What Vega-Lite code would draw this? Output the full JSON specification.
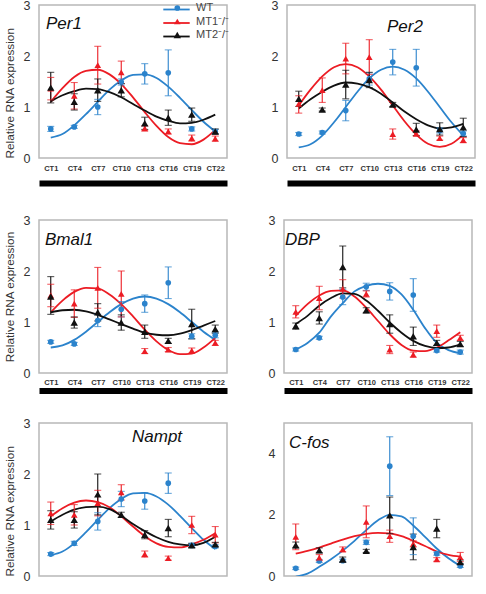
{
"$schema":"https://vega.github.io/schema/vega-lite/v6.json",
"background":"white",
"padding":{"left":3,"top":-2,"right":5,"bottom":0},
"config":{
 "font":"Liberation Sans",
 "view":{"stroke":"#b8b8b8","strokeWidth":1.5},
 "axis":{"grid":false,"ticks":false,"domain":false,"labelColor":"#333","titleColor":"#333","labelFont":"Liberation Sans","titleFont":"Liberation Sans"},
 "axisY":{"labelFontSize":12.5,"labelPadding":9,"titleFontSize":11.8,"titleFontWeight":"normal","titlePadding":8,"labelOverlap":false},
 "axisX":{"labelFontSize":7.5,"labelFontWeight":"bold","labelPadding":6.5,"labelOverlap":false}
},
"datasets":{
"fit":[
{"g":"Per1","t":1,"WT":0.40,"MT1":1.10,"MT2":1.11},
{"g":"Per1","t":2.5,"WT":0.47,"MT1":1.37,"MT2":1.23},
{"g":"Per1","t":4,"WT":0.64,"MT1":1.59,"MT2":1.31},
{"g":"Per1","t":5.5,"WT":0.86,"MT1":1.71,"MT2":1.36},
{"g":"Per1","t":7,"WT":1.10,"MT1":1.73,"MT2":1.35},
{"g":"Per1","t":8.5,"WT":1.34,"MT1":1.64,"MT2":1.29},
{"g":"Per1","t":10,"WT":1.52,"MT1":1.45,"MT2":1.19},
{"g":"Per1","t":11.5,"WT":1.63,"MT1":1.19,"MT2":1.06},
{"g":"Per1","t":13,"WT":1.64,"MT1":0.90,"MT2":0.93},
{"g":"Per1","t":14.5,"WT":1.57,"MT1":0.63,"MT2":0.81},
{"g":"Per1","t":16,"WT":1.40,"MT1":0.41,"MT2":0.73},
{"g":"Per1","t":17.5,"WT":1.18,"MT1":0.29,"MT2":0.68},
{"g":"Per1","t":19,"WT":0.94,"MT1":0.27,"MT2":0.69},
{"g":"Per1","t":20.5,"WT":0.71,"MT1":0.36,"MT2":0.75},
{"g":"Per1","t":22,"WT":0.52,"MT1":0.55,"MT2":0.85},
{"g":"Per2","t":1,"WT":0.21,"MT1":1.03,"MT2":0.97},
{"g":"Per2","t":2.5,"WT":0.27,"MT1":1.34,"MT2":1.15},
{"g":"Per2","t":4,"WT":0.44,"MT1":1.60,"MT2":1.30},
{"g":"Per2","t":5.5,"WT":0.70,"MT1":1.78,"MT2":1.42},
{"g":"Per2","t":7,"WT":1.00,"MT1":1.84,"MT2":1.48},
{"g":"Per2","t":8.5,"WT":1.30,"MT1":1.78,"MT2":1.46},
{"g":"Per2","t":10,"WT":1.56,"MT1":1.60,"MT2":1.39},
{"g":"Per2","t":11.5,"WT":1.73,"MT1":1.34,"MT2":1.26},
{"g":"Per2","t":13,"WT":1.79,"MT1":1.03,"MT2":1.09},
{"g":"Per2","t":14.5,"WT":1.73,"MT1":0.72,"MT2":0.91},
{"g":"Per2","t":16,"WT":1.56,"MT1":0.46,"MT2":0.76},
{"g":"Per2","t":17.5,"WT":1.30,"MT1":0.28,"MT2":0.64},
{"g":"Per2","t":19,"WT":1.00,"MT1":0.22,"MT2":0.58},
{"g":"Per2","t":20.5,"WT":0.70,"MT1":0.28,"MT2":0.60},
{"g":"Per2","t":22,"WT":0.44,"MT1":0.46,"MT2":0.67},
{"g":"Bmal1","t":1,"WT":0.50,"MT1":1.19,"MT2":1.19},
{"g":"Bmal1","t":2.5,"WT":0.54,"MT1":1.42,"MT2":1.23},
{"g":"Bmal1","t":4,"WT":0.65,"MT1":1.59,"MT2":1.24},
{"g":"Bmal1","t":5.5,"WT":0.81,"MT1":1.67,"MT2":1.21},
{"g":"Bmal1","t":7,"WT":1.00,"MT1":1.66,"MT2":1.14},
{"g":"Bmal1","t":8.5,"WT":1.19,"MT1":1.54,"MT2":1.05},
{"g":"Bmal1","t":10,"WT":1.35,"MT1":1.35,"MT2":0.96},
{"g":"Bmal1","t":11.5,"WT":1.46,"MT1":1.11,"MT2":0.87},
{"g":"Bmal1","t":13,"WT":1.50,"MT1":0.85,"MT2":0.79},
{"g":"Bmal1","t":14.5,"WT":1.46,"MT1":0.62,"MT2":0.75},
{"g":"Bmal1","t":16,"WT":1.35,"MT1":0.45,"MT2":0.74},
{"g":"Bmal1","t":17.5,"WT":1.19,"MT1":0.37,"MT2":0.77},
{"g":"Bmal1","t":19,"WT":1.00,"MT1":0.38,"MT2":0.84},
{"g":"Bmal1","t":20.5,"WT":0.81,"MT1":0.50,"MT2":0.93},
{"g":"Bmal1","t":22,"WT":0.65,"MT1":0.69,"MT2":1.02},
{"g":"DBP","t":1,"WT":0.46,"MT1":1.12,"MT2":0.96},
{"g":"DBP","t":2.5,"WT":0.59,"MT1":1.35,"MT2":1.12},
{"g":"DBP","t":4,"WT":0.79,"MT1":1.52,"MT2":1.32},
{"g":"DBP","t":5.5,"WT":1.11,"MT1":1.61,"MT2":1.47},
{"g":"DBP","t":7,"WT":1.37,"MT1":1.62,"MT2":1.56},
{"g":"DBP","t":8.5,"WT":1.60,"MT1":1.50,"MT2":1.55},
{"g":"DBP","t":10,"WT":1.71,"MT1":1.28,"MT2":1.42},
{"g":"DBP","t":11.5,"WT":1.75,"MT1":1.02,"MT2":1.22},
{"g":"DBP","t":13,"WT":1.71,"MT1":0.76,"MT2":0.99},
{"g":"DBP","t":14.5,"WT":1.54,"MT1":0.55,"MT2":0.79},
{"g":"DBP","t":16,"WT":1.24,"MT1":0.44,"MT2":0.63},
{"g":"DBP","t":17.5,"WT":0.88,"MT1":0.43,"MT2":0.53},
{"g":"DBP","t":19,"WT":0.59,"MT1":0.50,"MT2":0.49},
{"g":"DBP","t":20.5,"WT":0.45,"MT1":0.64,"MT2":0.50},
{"g":"DBP","t":22,"WT":0.39,"MT1":0.80,"MT2":0.56},
{"g":"Nampt","t":1,"WT":0.41,"MT1":1.17,"MT2":1.07},
{"g":"Nampt","t":2.5,"WT":0.48,"MT1":1.33,"MT2":1.20},
{"g":"Nampt","t":4,"WT":0.64,"MT1":1.44,"MT2":1.30},
{"g":"Nampt","t":5.5,"WT":0.86,"MT1":1.48,"MT2":1.35},
{"g":"Nampt","t":7,"WT":1.10,"MT1":1.45,"MT2":1.36},
{"g":"Nampt","t":8.5,"WT":1.33,"MT1":1.35,"MT2":1.31},
{"g":"Nampt","t":10,"WT":1.51,"MT1":1.17,"MT2":1.18},
{"g":"Nampt","t":11.5,"WT":1.62,"MT1":0.97,"MT2":1.02},
{"g":"Nampt","t":13,"WT":1.63,"MT1":0.78,"MT2":0.88},
{"g":"Nampt","t":14.5,"WT":1.56,"MT1":0.64,"MT2":0.76},
{"g":"Nampt","t":16,"WT":1.40,"MT1":0.57,"MT2":0.67},
{"g":"Nampt","t":17.5,"WT":1.18,"MT1":0.56,"MT2":0.62},
{"g":"Nampt","t":19,"WT":0.94,"MT1":0.62,"MT2":0.60},
{"g":"Nampt","t":20.5,"WT":0.71,"MT1":0.71,"MT2":0.65},
{"g":"Nampt","t":22,"WT":0.53,"MT1":0.84,"MT2":0.77},
{"g":"C-fos","t":1,"WT":-0.02,"MT1":0.73},
{"g":"C-fos","t":2.5,"WT":0.08,"MT1":0.82},
{"g":"C-fos","t":4,"WT":0.30,"MT1":0.93},
{"g":"C-fos","t":5.5,"WT":0.55,"MT1":1.06},
{"g":"C-fos","t":7,"WT":0.83,"MT1":1.19},
{"g":"C-fos","t":8.5,"WT":1.15,"MT1":1.30},
{"g":"C-fos","t":10,"WT":1.50,"MT1":1.38},
{"g":"C-fos","t":11.5,"WT":1.82,"MT1":1.41},
{"g":"C-fos","t":13,"WT":2.00,"MT1":1.39},
{"g":"C-fos","t":14.5,"WT":1.95,"MT1":1.30},
{"g":"C-fos","t":16,"WT":1.65,"MT1":1.15},
{"g":"C-fos","t":17.5,"WT":1.28,"MT1":0.98},
{"g":"C-fos","t":19,"WT":0.90,"MT1":0.80},
{"g":"C-fos","t":20.5,"WT":0.58,"MT1":0.69},
{"g":"C-fos","t":22,"WT":0.33,"MT1":0.63}
],
"pts":[
{"g":"Per1","s":"WT","t":1,"y":0.57,"lo":0.52,"hi":0.62},
{"g":"Per1","s":"WT","t":4,"y":0.61,"lo":0.58,"hi":0.64},
{"g":"Per1","s":"WT","t":7,"y":1.0,"lo":0.85,"hi":1.15},
{"g":"Per1","s":"WT","t":10,"y":1.49,"lo":1.43,"hi":1.55},
{"g":"Per1","s":"WT","t":13,"y":1.65,"lo":1.45,"hi":1.85},
{"g":"Per1","s":"WT","t":16,"y":1.67,"lo":1.22,"hi":2.12},
{"g":"Per1","s":"WT","t":19,"y":0.57,"lo":0.53,"hi":0.61},
{"g":"Per1","s":"WT","t":22,"y":0.52,"lo":0.48,"hi":0.56},
{"g":"Per1","s":"MT1","t":1,"y":1.36,"lo":1.14,"hi":1.58},
{"g":"Per1","s":"MT1","t":4,"y":1.22,"lo":0.96,"hi":1.48},
{"g":"Per1","s":"MT1","t":7,"y":1.82,"lo":1.45,"hi":2.19},
{"g":"Per1","s":"MT1","t":10,"y":1.68,"lo":1.46,"hi":1.9},
{"g":"Per1","s":"MT1","t":13,"y":0.58,"lo":0.53,"hi":0.63},
{"g":"Per1","s":"MT1","t":16,"y":0.52,"lo":0.47,"hi":0.57},
{"g":"Per1","s":"MT1","t":19,"y":0.39,"lo":0.33,"hi":0.45},
{"g":"Per1","s":"MT1","t":22,"y":0.38,"lo":0.33,"hi":0.43},
{"g":"Per1","s":"MT2","t":1,"y":1.38,"lo":1.08,"hi":1.68},
{"g":"Per1","s":"MT2","t":4,"y":1.1,"lo":0.94,"hi":1.26},
{"g":"Per1","s":"MT2","t":7,"y":1.33,"lo":1.11,"hi":1.55},
{"g":"Per1","s":"MT2","t":10,"y":1.33,"lo":1.2,"hi":1.46},
{"g":"Per1","s":"MT2","t":13,"y":0.68,"lo":0.56,"hi":0.8},
{"g":"Per1","s":"MT2","t":16,"y":0.79,"lo":0.64,"hi":0.94},
{"g":"Per1","s":"MT2","t":19,"y":0.85,"lo":0.72,"hi":0.98},
{"g":"Per1","s":"MT2","t":22,"y":0.52,"lo":0.47,"hi":0.57},
{"g":"Per2","s":"WT","t":1,"y":0.47,"lo":0.44,"hi":0.5},
{"g":"Per2","s":"WT","t":4,"y":0.5,"lo":0.47,"hi":0.53},
{"g":"Per2","s":"WT","t":7,"y":0.93,"lo":0.73,"hi":1.13},
{"g":"Per2","s":"WT","t":10,"y":1.55,"lo":1.43,"hi":1.67},
{"g":"Per2","s":"WT","t":13,"y":1.88,"lo":1.63,"hi":2.13},
{"g":"Per2","s":"WT","t":16,"y":1.77,"lo":1.41,"hi":2.13},
{"g":"Per2","s":"WT","t":19,"y":0.54,"lo":0.49,"hi":0.59},
{"g":"Per2","s":"WT","t":22,"y":0.48,"lo":0.43,"hi":0.53},
{"g":"Per2","s":"MT1","t":1,"y":1.06,"lo":0.88,"hi":1.22},
{"g":"Per2","s":"MT1","t":4,"y":1.33,"lo":1.09,"hi":1.57},
{"g":"Per2","s":"MT1","t":7,"y":1.95,"lo":1.65,"hi":2.25},
{"g":"Per2","s":"MT1","t":10,"y":1.98,"lo":1.64,"hi":2.32},
{"g":"Per2","s":"MT1","t":13,"y":0.47,"lo":0.37,"hi":0.57},
{"g":"Per2","s":"MT1","t":16,"y":0.48,"lo":0.43,"hi":0.53},
{"g":"Per2","s":"MT1","t":19,"y":0.39,"lo":0.35,"hi":0.43},
{"g":"Per2","s":"MT1","t":22,"y":0.35,"lo":0.3,"hi":0.4},
{"g":"Per2","s":"MT2","t":1,"y":1.16,"lo":1.01,"hi":1.31},
{"g":"Per2","s":"MT2","t":4,"y":0.95,"lo":0.92,"hi":0.98},
{"g":"Per2","s":"MT2","t":7,"y":1.44,"lo":1.16,"hi":1.72},
{"g":"Per2","s":"MT2","t":10,"y":1.53,"lo":1.38,"hi":1.68},
{"g":"Per2","s":"MT2","t":13,"y":1.05,"lo":1.01,"hi":1.09},
{"g":"Per2","s":"MT2","t":16,"y":0.56,"lo":0.44,"hi":0.68},
{"g":"Per2","s":"MT2","t":19,"y":0.57,"lo":0.45,"hi":0.69},
{"g":"Per2","s":"MT2","t":22,"y":0.6,"lo":0.42,"hi":0.78},
{"g":"Bmal1","s":"WT","t":1,"y":0.61,"lo":0.58,"hi":0.64},
{"g":"Bmal1","s":"WT","t":4,"y":0.57,"lo":0.54,"hi":0.6},
{"g":"Bmal1","s":"WT","t":7,"y":1.03,"lo":0.91,"hi":1.15},
{"g":"Bmal1","s":"WT","t":10,"y":1.25,"lo":1.1,"hi":1.4},
{"g":"Bmal1","s":"WT","t":13,"y":1.36,"lo":1.19,"hi":1.53},
{"g":"Bmal1","s":"WT","t":16,"y":1.77,"lo":1.46,"hi":2.08},
{"g":"Bmal1","s":"WT","t":19,"y":0.72,"lo":0.67,"hi":0.77},
{"g":"Bmal1","s":"WT","t":22,"y":0.74,"lo":0.69,"hi":0.79},
{"g":"Bmal1","s":"MT1","t":1,"y":1.52,"lo":1.3,"hi":1.74},
{"g":"Bmal1","s":"MT1","t":4,"y":1.36,"lo":1.09,"hi":1.63},
{"g":"Bmal1","s":"MT1","t":7,"y":1.67,"lo":1.27,"hi":2.07},
{"g":"Bmal1","s":"MT1","t":10,"y":1.55,"lo":1.1,"hi":2.0},
{"g":"Bmal1","s":"MT1","t":13,"y":0.43,"lo":0.38,"hi":0.48},
{"g":"Bmal1","s":"MT1","t":16,"y":0.46,"lo":0.42,"hi":0.5},
{"g":"Bmal1","s":"MT1","t":19,"y":0.44,"lo":0.39,"hi":0.49},
{"g":"Bmal1","s":"MT1","t":22,"y":0.59,"lo":0.54,"hi":0.64},
{"g":"Bmal1","s":"MT2","t":1,"y":1.5,"lo":1.15,"hi":1.89},
{"g":"Bmal1","s":"MT2","t":4,"y":0.99,"lo":0.88,"hi":1.1},
{"g":"Bmal1","s":"MT2","t":7,"y":1.19,"lo":1.02,"hi":1.36},
{"g":"Bmal1","s":"MT2","t":10,"y":0.99,"lo":0.84,"hi":1.14},
{"g":"Bmal1","s":"MT2","t":13,"y":0.81,"lo":0.68,"hi":0.94},
{"g":"Bmal1","s":"MT2","t":16,"y":0.63,"lo":0.58,"hi":0.68},
{"g":"Bmal1","s":"MT2","t":19,"y":0.96,"lo":0.67,"hi":1.25},
{"g":"Bmal1","s":"MT2","t":22,"y":0.86,"lo":0.78,"hi":0.94},
{"g":"DBP","s":"WT","t":1,"y":0.46,"lo":0.43,"hi":0.49},
{"g":"DBP","s":"WT","t":4,"y":0.69,"lo":0.66,"hi":0.72},
{"g":"DBP","s":"WT","t":7,"y":1.49,"lo":1.34,"hi":1.64},
{"g":"DBP","s":"WT","t":10,"y":1.69,"lo":1.62,"hi":1.76},
{"g":"DBP","s":"WT","t":13,"y":1.6,"lo":1.43,"hi":1.77},
{"g":"DBP","s":"WT","t":16,"y":1.53,"lo":1.21,"hi":1.85},
{"g":"DBP","s":"WT","t":19,"y":0.44,"lo":0.41,"hi":0.47},
{"g":"DBP","s":"WT","t":22,"y":0.41,"lo":0.37,"hi":0.45},
{"g":"DBP","s":"MT1","t":1,"y":1.2,"lo":1.08,"hi":1.32},
{"g":"DBP","s":"MT1","t":4,"y":1.47,"lo":1.24,"hi":1.7},
{"g":"DBP","s":"MT1","t":7,"y":1.65,"lo":1.47,"hi":1.83},
{"g":"DBP","s":"MT1","t":10,"y":1.55,"lo":1.49,"hi":1.61},
{"g":"DBP","s":"MT1","t":13,"y":0.46,"lo":0.38,"hi":0.54},
{"g":"DBP","s":"MT1","t":16,"y":0.36,"lo":0.31,"hi":0.41},
{"g":"DBP","s":"MT1","t":19,"y":0.82,"lo":0.7,"hi":0.94},
{"g":"DBP","s":"MT1","t":22,"y":0.69,"lo":0.64,"hi":0.74},
{"g":"DBP","s":"MT2","t":1,"y":0.92,"lo":0.86,"hi":0.98},
{"g":"DBP","s":"MT2","t":4,"y":1.08,"lo":0.96,"hi":1.2},
{"g":"DBP","s":"MT2","t":7,"y":2.08,"lo":1.67,"hi":2.49},
{"g":"DBP","s":"MT2","t":10,"y":1.23,"lo":1.18,"hi":1.28},
{"g":"DBP","s":"MT2","t":13,"y":0.96,"lo":0.78,"hi":1.14},
{"g":"DBP","s":"MT2","t":16,"y":0.72,"lo":0.54,"hi":0.9},
{"g":"DBP","s":"MT2","t":19,"y":0.59,"lo":0.54,"hi":0.64},
{"g":"DBP","s":"MT2","t":22,"y":0.57,"lo":0.52,"hi":0.62},
{"g":"Nampt","s":"WT","t":1,"y":0.43,"lo":0.4,"hi":0.46},
{"g":"Nampt","s":"WT","t":4,"y":0.64,"lo":0.6,"hi":0.68},
{"g":"Nampt","s":"WT","t":7,"y":1.07,"lo":0.9,"hi":1.24},
{"g":"Nampt","s":"WT","t":10,"y":1.51,"lo":1.36,"hi":1.66},
{"g":"Nampt","s":"WT","t":13,"y":1.47,"lo":1.31,"hi":1.63},
{"g":"Nampt","s":"WT","t":16,"y":1.82,"lo":1.62,"hi":2.02},
{"g":"Nampt","s":"WT","t":19,"y":0.6,"lo":0.56,"hi":0.64},
{"g":"Nampt","s":"WT","t":22,"y":0.58,"lo":0.55,"hi":0.61},
{"g":"Nampt","s":"MT1","t":1,"y":1.23,"lo":1.01,"hi":1.45},
{"g":"Nampt","s":"MT1","t":4,"y":1.2,"lo":1.0,"hi":1.4},
{"g":"Nampt","s":"MT1","t":7,"y":1.43,"lo":1.18,"hi":1.68},
{"g":"Nampt","s":"MT1","t":10,"y":1.64,"lo":1.49,"hi":1.79},
{"g":"Nampt","s":"MT1","t":13,"y":0.43,"lo":0.37,"hi":0.49},
{"g":"Nampt","s":"MT1","t":16,"y":0.35,"lo":0.31,"hi":0.39},
{"g":"Nampt","s":"MT1","t":19,"y":1.0,"lo":0.83,"hi":1.17},
{"g":"Nampt","s":"MT1","t":22,"y":0.81,"lo":0.65,"hi":0.97},
{"g":"Nampt","s":"MT2","t":1,"y":1.1,"lo":0.92,"hi":1.28},
{"g":"Nampt","s":"MT2","t":4,"y":1.1,"lo":0.94,"hi":1.26},
{"g":"Nampt","s":"MT2","t":7,"y":1.6,"lo":1.2,"hi":2.0},
{"g":"Nampt","s":"MT2","t":10,"y":1.2,"lo":1.15,"hi":1.25},
{"g":"Nampt","s":"MT2","t":13,"y":0.81,"lo":0.73,"hi":0.89},
{"g":"Nampt","s":"MT2","t":16,"y":0.94,"lo":0.77,"hi":1.11},
{"g":"Nampt","s":"MT2","t":19,"y":0.6,"lo":0.56,"hi":0.64},
{"g":"Nampt","s":"MT2","t":22,"y":0.62,"lo":0.58,"hi":0.66},
{"g":"C-fos","s":"WT","t":1,"y":0.25,"lo":0.21,"hi":0.29},
{"g":"C-fos","s":"WT","t":4,"y":0.49,"lo":0.44,"hi":0.54},
{"g":"C-fos","s":"WT","t":7,"y":0.5,"lo":0.45,"hi":0.55},
{"g":"C-fos","s":"WT","t":10,"y":1.1,"lo":1.03,"hi":1.17},
{"g":"C-fos","s":"WT","t":13,"y":3.59,"lo":2.63,"hi":4.55},
{"g":"C-fos","s":"WT","t":16,"y":1.3,"lo":0.7,"hi":1.9},
{"g":"C-fos","s":"WT","t":19,"y":0.73,"lo":0.68,"hi":0.78},
{"g":"C-fos","s":"WT","t":22,"y":0.33,"lo":0.28,"hi":0.38},
{"g":"C-fos","s":"MT1","t":1,"y":1.28,"lo":0.86,"hi":1.7},
{"g":"C-fos","s":"MT1","t":4,"y":0.6,"lo":0.5,"hi":0.7},
{"g":"C-fos","s":"MT1","t":7,"y":0.87,"lo":0.79,"hi":0.95},
{"g":"C-fos","s":"MT1","t":10,"y":1.77,"lo":1.25,"hi":2.29},
{"g":"C-fos","s":"MT1","t":13,"y":1.3,"lo":1.1,"hi":1.5},
{"g":"C-fos","s":"MT1","t":16,"y":1.05,"lo":0.95,"hi":1.15},
{"g":"C-fos","s":"MT1","t":19,"y":0.54,"lo":0.48,"hi":0.6},
{"g":"C-fos","s":"MT1","t":22,"y":0.62,"lo":0.47,"hi":0.77},
{"g":"C-fos","s":"MT2","t":1,"y":1.01,"lo":0.91,"hi":1.11},
{"g":"C-fos","s":"MT2","t":4,"y":0.84,"lo":0.76,"hi":0.92},
{"g":"C-fos","s":"MT2","t":7,"y":0.54,"lo":0.46,"hi":0.62},
{"g":"C-fos","s":"MT2","t":10,"y":0.82,"lo":0.77,"hi":0.87},
{"g":"C-fos","s":"MT2","t":13,"y":1.98,"lo":1.38,"hi":2.58},
{"g":"C-fos","s":"MT2","t":16,"y":0.95,"lo":0.53,"hi":1.37},
{"g":"C-fos","s":"MT2","t":19,"y":1.55,"lo":1.25,"hi":1.85},
{"g":"C-fos","s":"MT2","t":22,"y":0.46,"lo":0.4,"hi":0.52}
]
},
"spacing":24,
"vconcat":[
{"spacing":29,"vconcat":[
{"spacing":39,"hconcat":[
{
 "width":188,"height":153,
 "title":{"text":"Per1","anchor":"start","frame":"group","offset":-47,"dx":7,"baseline":"alphabetic","fontSize":17,"fontStyle":"italic","fontWeight":"normal","font":"Liberation Sans","color":"#111"},
 "layer":[
  {"data":{"name":"fit"},"transform":[{"filter":"datum.g === 'Per1'"},{"fold":["WT","MT1","MT2"],"as":["s","v"]},{"filter":"isValid(datum.v)"}],
   "mark":{"type":"line","interpolate":"monotone","strokeWidth":1.8,"clip":true},
   "encoding":{
    "x":{"field":"t","type":"quantitative","title":null,"scale":{"domain":[-0.5,23.5],"nice":false,"zero":false},"axis":{"orient":"bottom","offset":25,"domain":true,"domainWidth":6,"domainColor":"#000","labels":false,"ticks":false,"grid":false,"title":null}},
    "y":{"field":"v","type":"quantitative","title":"Relative RNA expression","scale":{"domain":[0,3],"nice":false},"axis":{"values":[0,1,2,3],"titleAnchor":"start"}},
    "color":{"field":"s","type":"nominal","scale":{"domain":["WT","MT1","MT2"],"range":["#2b83cc","#ec1c24","#111111"]},
      "legend":{"orient":"none","legendX":130.5,"legendY":-2.5,"title":null,"symbolType":"M-2.2,0H2.2","symbolSize":144,"symbolStrokeWidth":1.8,"labelFontSize":11,"labelOpacity":0,"labelExpr":"''","labelOffset":4,"rowPadding":1.5}}}},
  {"data":{"name":"pts"},"transform":[{"filter":"datum.g === 'Per1'"}],
   "mark":{"type":"rule","strokeWidth":1.1},
   "encoding":{"x":{"field":"t","type":"quantitative","title":null,"axis":null},"y":{"field":"lo","type":"quantitative","title":"Relative RNA expression"},"y2":{"field":"hi"},
    "color":{"field":"s","type":"nominal","legend":null}}},
  {"data":{"name":"pts"},"transform":[{"filter":"datum.g === 'Per1'"},{"fold":["lo","hi"],"as":["k","cap"]}],
   "mark":{"type":"tick","orient":"horizontal","size":7,"thickness":1.1},
   "encoding":{"x":{"field":"t","type":"quantitative","title":null,"axis":null},"y":{"field":"cap","type":"quantitative","title":"Relative RNA expression"},
    "color":{"field":"s","type":"nominal","legend":null}}},
  {"data":{"name":"pts"},"transform":[{"filter":"datum.g === 'Per1'"}],
   "mark":{"type":"point","filled":true,"opacity":1},
   "encoding":{"x":{"field":"t","type":"quantitative","title":null,"axis":{"orient":"bottom","values":[1,4,7,10,13,16,19,22],"labelExpr":"'CT' + datum.value","title":null}},
    "y":{"field":"y","type":"quantitative","title":"Relative RNA expression"},
    "color":{"field":"s","type":"nominal","legend":{"orient":"none","legendX":132.8,"legendY":-2.5,"title":null,"labelFontSize":11,"labelColor":"#444","labelFont":"Liberation Sans","labelOffset":13.3,"rowPadding":1.5,"labelExpr":"datum.label === 'WT' ? 'WT' : datum.label + '⁻/⁻'"}},
    "shape":{"field":"s","type":"nominal","scale":{"domain":["WT","MT1","MT2"],"range":["circle","triangle-up","triangle-up"]},"legend":{"orient":"none","legendX":132.8,"legendY":-2.5,"title":null,"labelFontSize":11,"labelColor":"#444","labelFont":"Liberation Sans","labelOffset":13.3,"rowPadding":1.5,"labelExpr":"datum.label === 'WT' ? 'WT' : datum.label + '⁻/⁻'"}},
    "size":{"field":"s","type":"nominal","scale":{"domain":["WT","MT1","MT2"],"range":[32,55,55]},"legend":{"orient":"none","legendX":132.8,"legendY":-2.5,"title":null,"labelFontSize":11,"labelColor":"#444","labelFont":"Liberation Sans","labelOffset":13.3,"rowPadding":1.5,"labelExpr":"datum.label === 'WT' ? 'WT' : datum.label + '⁻/⁻'"}}}}
 ],
 "resolve":{"axis":{"x":"independent"},"legend":{"color":"independent","shape":"independent","size":"independent"}}
},
{
 "width":188,"height":153,
 "title":{"text":"Per2","anchor":"start","frame":"group","offset":-50,"dx":100,"baseline":"alphabetic","fontSize":17,"fontStyle":"italic","fontWeight":"normal","font":"Liberation Sans","color":"#111"},
 "layer":[
  {"data":{"name":"fit"},"transform":[{"filter":"datum.g === 'Per2'"},{"fold":["WT","MT1","MT2"],"as":["s","v"]},{"filter":"isValid(datum.v)"}],
   "mark":{"type":"line","interpolate":"monotone","strokeWidth":1.8,"clip":true},
   "encoding":{
    "x":{"field":"t","type":"quantitative","title":null,"scale":{"domain":[-0.5,23.5],"nice":false,"zero":false},"axis":{"orient":"bottom","offset":25,"domain":true,"domainWidth":6,"domainColor":"#000","labels":false,"ticks":false,"grid":false,"title":null}},
    "y":{"field":"v","type":"quantitative","title":null,"scale":{"domain":[0,3],"nice":false},"axis":{"values":[0,1,2,3]}},
    "color":{"field":"s","type":"nominal","legend":null}}},
  {"data":{"name":"pts"},"transform":[{"filter":"datum.g === 'Per2'"}],
   "mark":{"type":"rule","strokeWidth":1.1},
   "encoding":{"x":{"field":"t","type":"quantitative","title":null,"axis":null},"y":{"field":"lo","type":"quantitative","title":null},"y2":{"field":"hi"},
    "color":{"field":"s","type":"nominal","legend":null}}},
  {"data":{"name":"pts"},"transform":[{"filter":"datum.g === 'Per2'"},{"fold":["lo","hi"],"as":["k","cap"]}],
   "mark":{"type":"tick","orient":"horizontal","size":7,"thickness":1.1},
   "encoding":{"x":{"field":"t","type":"quantitative","title":null,"axis":null},"y":{"field":"cap","type":"quantitative","title":null},
    "color":{"field":"s","type":"nominal","legend":null}}},
  {"data":{"name":"pts"},"transform":[{"filter":"datum.g === 'Per2'"}],
   "mark":{"type":"point","filled":true,"opacity":1},
   "encoding":{"x":{"field":"t","type":"quantitative","title":null,"axis":{"orient":"bottom","values":[1,4,7,10,13,16,19,22],"labelExpr":"'CT' + datum.value","title":null}},
    "y":{"field":"y","type":"quantitative","title":null},
    "color":{"field":"s","type":"nominal","legend":null},
    "shape":{"field":"s","type":"nominal","legend":null},
    "size":{"field":"s","type":"nominal","legend":null}}}
 ],
 "resolve":{"axis":{"x":"independent"}}
}
]},
{"spacing":39,"hconcat":[
{
 "width":188,"height":153,
 "title":{"text":"Bmal1","anchor":"start","frame":"group","offset":-48,"dx":6,"baseline":"alphabetic","fontSize":17,"fontStyle":"italic","fontWeight":"normal","font":"Liberation Sans","color":"#111"},
 "layer":[
  {"data":{"name":"fit"},"transform":[{"filter":"datum.g === 'Bmal1'"},{"fold":["WT","MT1","MT2"],"as":["s","v"]},{"filter":"isValid(datum.v)"}],
   "mark":{"type":"line","interpolate":"monotone","strokeWidth":1.8,"clip":true},
   "encoding":{
    "x":{"field":"t","type":"quantitative","title":null,"scale":{"domain":[-0.5,23.5],"nice":false,"zero":false},"axis":{"orient":"bottom","offset":17.5,"domain":true,"domainWidth":6,"domainColor":"#000","labels":false,"ticks":false,"grid":false,"title":null}},
    "y":{"field":"v","type":"quantitative","title":"Relative RNA expression","scale":{"domain":[0,3],"nice":false},"axis":{"values":[0,1,2,3]}},
    "color":{"field":"s","type":"nominal","legend":null}}},
  {"data":{"name":"pts"},"transform":[{"filter":"datum.g === 'Bmal1'"}],
   "mark":{"type":"rule","strokeWidth":1.1},
   "encoding":{"x":{"field":"t","type":"quantitative","title":null,"axis":null},"y":{"field":"lo","type":"quantitative","title":"Relative RNA expression"},"y2":{"field":"hi"},
    "color":{"field":"s","type":"nominal","legend":null}}},
  {"data":{"name":"pts"},"transform":[{"filter":"datum.g === 'Bmal1'"},{"fold":["lo","hi"],"as":["k","cap"]}],
   "mark":{"type":"tick","orient":"horizontal","size":7,"thickness":1.1},
   "encoding":{"x":{"field":"t","type":"quantitative","title":null,"axis":null},"y":{"field":"cap","type":"quantitative","title":"Relative RNA expression"},
    "color":{"field":"s","type":"nominal","legend":null}}},
  {"data":{"name":"pts"},"transform":[{"filter":"datum.g === 'Bmal1'"}],
   "mark":{"type":"point","filled":true,"opacity":1},
   "encoding":{"x":{"field":"t","type":"quantitative","title":null,"axis":{"orient":"bottom","values":[1,4,7,10,13,16,19,22],"labelExpr":"'CT' + datum.value","title":null,"labelPadding":5}},
    "y":{"field":"y","type":"quantitative","title":"Relative RNA expression"},
    "color":{"field":"s","type":"nominal","legend":null},
    "shape":{"field":"s","type":"nominal","legend":null},
    "size":{"field":"s","type":"nominal","legend":null}}}
 ],
 "resolve":{"axis":{"x":"independent"}}
},
{
 "width":188,"height":153,
 "title":{"text":"DBP","anchor":"start","frame":"group","offset":-48,"dx":1,"baseline":"alphabetic","fontSize":17,"fontStyle":"italic","fontWeight":"normal","font":"Liberation Sans","color":"#111"},
 "layer":[
  {"data":{"name":"fit"},"transform":[{"filter":"datum.g === 'DBP'"},{"fold":["WT","MT1","MT2"],"as":["s","v"]},{"filter":"isValid(datum.v)"}],
   "mark":{"type":"line","interpolate":"monotone","strokeWidth":1.8,"clip":true},
   "encoding":{
    "x":{"field":"t","type":"quantitative","title":null,"scale":{"domain":[-0.5,23.5],"nice":false,"zero":false},"axis":{"orient":"bottom","offset":17.5,"domain":true,"domainWidth":6,"domainColor":"#000","labels":false,"ticks":false,"grid":false,"title":null}},
    "y":{"field":"v","type":"quantitative","title":null,"scale":{"domain":[0,3],"nice":false},"axis":{"values":[0,1,2,3]}},
    "color":{"field":"s","type":"nominal","legend":null}}},
  {"data":{"name":"pts"},"transform":[{"filter":"datum.g === 'DBP'"}],
   "mark":{"type":"rule","strokeWidth":1.1},
   "encoding":{"x":{"field":"t","type":"quantitative","title":null,"axis":null},"y":{"field":"lo","type":"quantitative","title":null},"y2":{"field":"hi"},
    "color":{"field":"s","type":"nominal","legend":null}}},
  {"data":{"name":"pts"},"transform":[{"filter":"datum.g === 'DBP'"},{"fold":["lo","hi"],"as":["k","cap"]}],
   "mark":{"type":"tick","orient":"horizontal","size":7,"thickness":1.1},
   "encoding":{"x":{"field":"t","type":"quantitative","title":null,"axis":null},"y":{"field":"cap","type":"quantitative","title":null},
    "color":{"field":"s","type":"nominal","legend":null}}},
  {"data":{"name":"pts"},"transform":[{"filter":"datum.g === 'DBP'"}],
   "mark":{"type":"point","filled":true,"opacity":1},
   "encoding":{"x":{"field":"t","type":"quantitative","title":null,"axis":{"orient":"bottom","values":[1,4,7,10,13,16,19,22],"labelExpr":"'CT' + datum.value","title":null,"labelPadding":5}},
    "y":{"field":"y","type":"quantitative","title":null},
    "color":{"field":"s","type":"nominal","legend":null},
    "shape":{"field":"s","type":"nominal","legend":null},
    "size":{"field":"s","type":"nominal","legend":null}}}
 ],
 "resolve":{"axis":{"x":"independent"}}
}
]}
]},
{"spacing":39,"hconcat":[
{
 "width":188,"height":153,
 "title":{"text":"Nampt","anchor":"start","frame":"group","offset":-42,"dx":93,"baseline":"alphabetic","fontSize":17,"fontStyle":"italic","fontWeight":"normal","font":"Liberation Sans","color":"#111"},
 "layer":[
  {"data":{"name":"fit"},"transform":[{"filter":"datum.g === 'Nampt'"},{"fold":["WT","MT1","MT2"],"as":["s","v"]},{"filter":"isValid(datum.v)"}],
   "mark":{"type":"line","interpolate":"monotone","strokeWidth":1.8,"clip":true},
   "encoding":{
    "x":{"field":"t","type":"quantitative","title":null,"scale":{"domain":[-0.5,23.5],"nice":false,"zero":false},"axis":null},
    "y":{"field":"v","type":"quantitative","title":"Relative RNA expression","scale":{"domain":[0,3],"nice":false},"axis":{"values":[0,1,2,3],"titleAnchor":"start"}},
    "color":{"field":"s","type":"nominal","legend":null}}},
  {"data":{"name":"pts"},"transform":[{"filter":"datum.g === 'Nampt'"}],
   "mark":{"type":"rule","strokeWidth":1.1},
   "encoding":{"x":{"field":"t","type":"quantitative","title":null,"axis":null},"y":{"field":"lo","type":"quantitative","title":"Relative RNA expression"},"y2":{"field":"hi"},
    "color":{"field":"s","type":"nominal","legend":null}}},
  {"data":{"name":"pts"},"transform":[{"filter":"datum.g === 'Nampt'"},{"fold":["lo","hi"],"as":["k","cap"]}],
   "mark":{"type":"tick","orient":"horizontal","size":7,"thickness":1.1},
   "encoding":{"x":{"field":"t","type":"quantitative","title":null,"axis":null},"y":{"field":"cap","type":"quantitative","title":"Relative RNA expression"},
    "color":{"field":"s","type":"nominal","legend":null}}},
  {"data":{"name":"pts"},"transform":[{"filter":"datum.g === 'Nampt'"}],
   "mark":{"type":"point","filled":true,"opacity":1},
   "encoding":{"x":{"field":"t","type":"quantitative","title":null,"axis":{"orient":"bottom","values":[1,4,7,10,13,16,19,22],"labelExpr":"'CT' + datum.value","title":null}},
    "y":{"field":"y","type":"quantitative","title":"Relative RNA expression"},
    "color":{"field":"s","type":"nominal","legend":null},
    "shape":{"field":"s","type":"nominal","legend":null},
    "size":{"field":"s","type":"nominal","legend":null}}}
 ]
},
{
 "width":188,"height":153,
 "title":{"text":"C-fos","anchor":"start","frame":"group","offset":-42,"dx":5,"baseline":"alphabetic","fontSize":17,"fontStyle":"italic","fontWeight":"normal","font":"Liberation Sans","color":"#111"},
 "layer":[
  {"data":{"name":"fit"},"transform":[{"filter":"datum.g === 'C-fos'"},{"fold":["WT","MT1","MT2"],"as":["s","v"]},{"filter":"isValid(datum.v)"}],
   "mark":{"type":"line","interpolate":"monotone","strokeWidth":1.8,"clip":true},
   "encoding":{
    "x":{"field":"t","type":"quantitative","title":null,"scale":{"domain":[-0.5,23.5],"nice":false,"zero":false},"axis":null},
    "y":{"field":"v","type":"quantitative","title":null,"scale":{"domain":[0,5],"nice":false},"axis":{"values":[0,1,2,3,4,5]}},
    "color":{"field":"s","type":"nominal","legend":null}}},
  {"data":{"name":"pts"},"transform":[{"filter":"datum.g === 'C-fos'"}],
   "mark":{"type":"rule","strokeWidth":1.1},
   "encoding":{"x":{"field":"t","type":"quantitative","title":null,"axis":null},"y":{"field":"lo","type":"quantitative","title":null},"y2":{"field":"hi"},
    "color":{"field":"s","type":"nominal","legend":null}}},
  {"data":{"name":"pts"},"transform":[{"filter":"datum.g === 'C-fos'"},{"fold":["lo","hi"],"as":["k","cap"]}],
   "mark":{"type":"tick","orient":"horizontal","size":7,"thickness":1.1},
   "encoding":{"x":{"field":"t","type":"quantitative","title":null,"axis":null},"y":{"field":"cap","type":"quantitative","title":null},
    "color":{"field":"s","type":"nominal","legend":null}}},
  {"data":{"name":"pts"},"transform":[{"filter":"datum.g === 'C-fos'"}],
   "mark":{"type":"point","filled":true,"opacity":1},
   "encoding":{"x":{"field":"t","type":"quantitative","title":null,"axis":{"orient":"bottom","values":[1,4,7,10,13,16,19,22],"labelExpr":"'CT' + datum.value","title":null}},
    "y":{"field":"y","type":"quantitative","title":null},
    "color":{"field":"s","type":"nominal","legend":null},
    "shape":{"field":"s","type":"nominal","legend":null},
    "size":{"field":"s","type":"nominal","legend":null}}}
 ]
}
]}
]
}
